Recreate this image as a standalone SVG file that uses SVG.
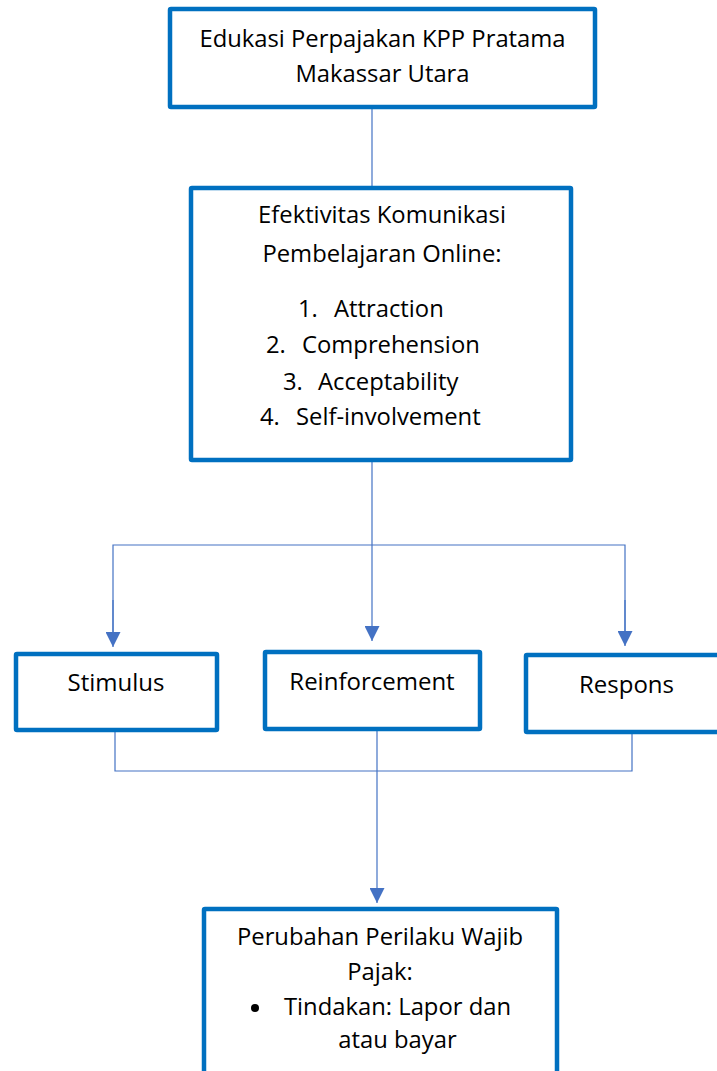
<svg xmlns="http://www.w3.org/2000/svg" width="717" height="1071" viewBox="0 0 717 1071">
<style>
.box{fill:#fff;stroke:#0070C0;stroke-width:4.5}
.t{font-family:"Open Sans","Noto Sans","Liberation Sans",sans-serif;font-size:23.8px;fill:#000;font-variant-ligatures:none}
.b{font-size:24px}
.m{text-anchor:middle}
.c{fill:none;stroke:#4472C4;stroke-width:1.2}
</style>
<defs>
<marker id="ah" viewBox="0 0 15 15" refX="15" refY="7.5" markerWidth="15" markerHeight="15" markerUnits="userSpaceOnUse" orient="auto">
<path d="M0,0 L15,7.5 L0,15 Z" fill="#4472C4"/>
</marker>
</defs>
<g id="connectors">
<line class="c" x1="372" y1="109" x2="372" y2="186"/>
<line class="c" x1="372" y1="462" x2="372" y2="641" marker-end="url(#ah)"/>
<polyline class="c" points="113,640 113,545 625,545 625,640"/>
<line class="c" x1="113" y1="600" x2="113" y2="647" marker-end="url(#ah)"/>
<line class="c" x1="625" y1="600" x2="625" y2="646" marker-end="url(#ah)"/>
<polyline class="c" points="115,732 115,771 632,771 632,734"/>
<line class="c" x1="377" y1="731" x2="377" y2="903" marker-end="url(#ah)"/>
</g>
<g id="n-edukasi">
<rect class="box" x="170" y="9" width="425" height="98" rx="1"/>
<text class="t m" x="382.5" y="47">Edukasi Perpajakan KPP Pratama</text>
<text class="t m" x="382.5" y="82">Makassar Utara</text>
</g>
<g id="n-efektivitas">
<rect class="box" x="191" y="188" width="380" height="272" rx="1"/>
<text class="t m" x="382" y="223">Efektivitas Komunikasi</text>
<text class="t m" x="382" y="262">Pembelajaran Online:</text>
<text class="t" y="317"><tspan x="298">1.</tspan><tspan x="334">Attraction</tspan></text>
<text class="t" y="353"><tspan x="266">2.</tspan><tspan x="302">Comprehension</tspan></text>
<text class="t" y="390"><tspan x="283">3.</tspan><tspan x="318">Acceptability</tspan></text>
<text class="t" y="425"><tspan x="260">4.</tspan><tspan x="296">Self-involvement</tspan></text>
</g>
<g id="n-stimulus">
<rect class="box" x="16" y="654" width="201" height="76" rx="1"/>
<text class="t b m" x="116" y="691">Stimulus</text>
</g>
<g id="n-reinforcement">
<rect class="box" x="265" y="652" width="215" height="77" rx="1"/>
<text class="t b m" x="372" y="690">Reinforcement</text>
</g>
<g id="n-respons">
<rect class="box" x="526" y="655" width="200" height="77" rx="1"/>
<text class="t b m" x="626.5" y="693">Respons</text>
</g>
<g id="n-perubahan">
<rect class="box" x="204" y="909" width="353" height="200" rx="1"/>
<text class="t m" x="380" y="945">Perubahan Perilaku Wajib</text>
<text class="t m" x="380" y="980">Pajak:</text>
<circle cx="255" cy="1008" r="4" fill="#000"/>
<text class="t m" x="397.5" y="1015">Tindakan: Lapor dan</text>
<text class="t m" x="397.5" y="1048">atau bayar</text>
</g>
</svg>
